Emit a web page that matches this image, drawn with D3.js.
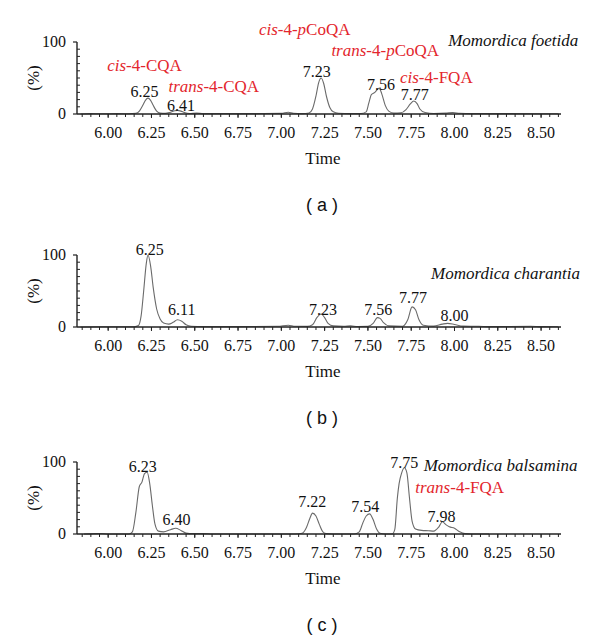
<!DOCTYPE html>
<html>
<head>
<meta charset="utf-8">
<script src="https://cdn.jsdelivr.net/npm/d3@7"></script>
<style>
  body { margin: 0; background: #fff; }
  svg { display: block; }
</style>
</head>
<body>
<div id="chart"></div>
<script>
// Chromatograms of three Momordica species (time vs relative intensity)

const timeTicks = [6.00, 6.25, 6.50, 6.75, 7.00, 7.25, 7.50, 7.75, 8.00, 8.25, 8.50];
const panelLetters = ['a', 'b', 'c'];
const speciesNames = ['Momordica foetida', 'Momordica charantia', 'Momordica balsamina'];

// [time, %] points of each trace
const traceA = [
    [5.84, 0], [5.90, 0.5], [5.96, 0.3], [6.05, 0.5], [6.12, 0.4], [6.16, 1],
    [6.18, 4], [6.20, 12], [6.215, 19], [6.23, 22], [6.245, 19], [6.26, 12],
    [6.28, 4], [6.30, 1.2], [6.33, 0.8], [6.36, 2.5], [6.385, 4.5], [6.40, 5],
    [6.42, 4], [6.44, 2], [6.47, 0.6], [6.51, 1.2], [6.55, 0.5], [6.70, 0.5],
    [6.90, 0.6], [7.00, 0.8], [7.04, 2.5], [7.07, 1], [7.12, 0.5], [7.16, 1.5],
    [7.18, 7], [7.20, 25], [7.215, 43], [7.23, 50], [7.245, 42], [7.26, 25],
    [7.28, 9], [7.30, 3], [7.33, 1], [7.40, 0.5], [7.46, 0.6], [7.49, 3],
    [7.505, 15], [7.52, 27], [7.54, 30], [7.565, 36], [7.58, 28], [7.60, 12],
    [7.62, 4], [7.65, 1.2], [7.69, 1.5], [7.72, 6], [7.745, 14], [7.765, 18],
    [7.785, 14], [7.80, 7], [7.83, 2], [7.88, 0.6], [7.95, 1.2], [7.99, 2],
    [8.03, 1], [8.10, 0.5], [8.30, 0.5], [8.50, 0.4], [8.60, 0.3]
];
const traceB = [
    [5.84, 0], [6.00, 0.3], [6.15, 0.3], [6.175, 2], [6.19, 15], [6.205, 50],
    [6.22, 88], [6.23, 100], [6.245, 85], [6.26, 55], [6.28, 25], [6.30, 11],
    [6.32, 5.5], [6.35, 4], [6.375, 6.5], [6.40, 10], [6.425, 8], [6.45, 3],
    [6.48, 1], [6.55, 0.5], [6.75, 0.5], [6.98, 1], [7.04, 2.5], [7.08, 1],
    [7.15, 0.8], [7.18, 3], [7.205, 13], [7.23, 18], [7.25, 13], [7.27, 5],
    [7.30, 1.5], [7.36, 1], [7.40, 1.5], [7.44, 0.6], [7.50, 0.8], [7.53, 5],
    [7.555, 13], [7.57, 12], [7.59, 6], [7.62, 1.5], [7.70, 1], [7.73, 10],
    [7.755, 28], [7.775, 24], [7.795, 10], [7.82, 2.5], [7.88, 1.2], [7.93, 4],
    [7.96, 5], [8.00, 3.5], [8.05, 1.2], [8.14, 1], [8.20, 0.5], [8.44, 1],
    [8.50, 0.5], [8.60, 0.4]
];
const traceC = [
    [5.86, 0], [5.92, 0.5], [5.96, 0.6], [6.00, 0], [6.12, 0], [6.14, 3],
    [6.16, 30], [6.18, 66], [6.195, 72], [6.21, 84], [6.225, 86], [6.24, 70],
    [6.255, 40], [6.27, 14], [6.29, 4], [6.32, 3], [6.36, 6], [6.39, 8],
    [6.42, 5], [6.45, 1.2], [6.49, 0.5], [6.55, 0.5], [6.60, 0], [7.08, 0],
    [7.12, 1], [7.145, 9], [7.165, 22], [7.18, 29], [7.20, 25], [7.22, 13],
    [7.24, 3], [7.26, 0.5], [7.30, 0], [7.42, 0], [7.45, 3], [7.47, 15],
    [7.49, 25], [7.51, 28], [7.53, 20], [7.55, 7], [7.57, 1], [7.60, 0],
    [7.64, 0], [7.655, 6], [7.67, 50], [7.68, 70], [7.695, 85], [7.71, 92],
    [7.725, 85], [7.74, 50], [7.755, 18], [7.775, 7], [7.81, 5], [7.85, 4.5],
    [7.88, 4], [7.91, 10], [7.93, 17], [7.95, 13], [7.97, 10], [8.00, 8],
    [8.03, 3], [8.06, 0.5], [8.10, 0], [8.20, 0]
];
const traces = [traceA, traceB, traceC];

// peak retention time labels: text, time, % where the baseline sits
const peaksA = [
    { text: '6.25', t: 6.21, v: 23 }, { text: '6.41', t: 6.42, v: 4 },
    { text: '7.23', t: 7.205, v: 51 }, { text: '7.56', t: 7.575, v: 33 },
    { text: '7.77', t: 7.77, v: 19 }
];
const peaksB = [
    { text: '6.25', t: 6.24, v: 100 }, { text: '6.11', t: 6.425, v: 16 },
    { text: '7.23', t: 7.24, v: 16 }, { text: '7.56', t: 7.56, v: 16 },
    { text: '7.77', t: 7.76, v: 33 }, { text: '8.00', t: 8.00, v: 9 }
];
const peaksC = [
    { text: '6.23', t: 6.20, v: 86 }, { text: '6.40', t: 6.395, v: 12 },
    { text: '7.22', t: 7.178, v: 37 }, { text: '7.54', t: 7.485, v: 31 },
    { text: '7.75', t: 7.71, v: 92 }, { text: '7.98', t: 7.925, v: 17 }
];
const peakLabels = [peaksA, peaksB, peaksC];

// compound names in red: italic prefix, plain part, italic 'p', rest
const compoundsA = [
    { pre: 'cis', mid: '-4-', p: '', rest: 'CQA', t: 6.21, v: 60 },
    { pre: 'trans', mid: '-4-', p: '', rest: 'CQA', t: 6.61, v: 31 },
    { pre: 'cis', mid: '-4-', p: 'p', rest: 'CoQA', t: 7.135, v: 110 },
    { pre: 'trans', mid: '-4-', p: 'p', rest: 'CoQA', t: 7.60, v: 80 },
    { pre: 'cis', mid: '-4-', p: '', rest: 'FQA', t: 7.895, v: 43 }
];
const compoundsB = [];
const compoundsC = [
    { pre: 'trans', mid: '-4-', p: '', rest: 'FQA', t: 8.03, v: 57 }
];
const compounds = [compoundsA, compoundsB, compoundsC];

// species name position (right end of text)
const speciesPos = [{ t: 8.715, v: 94 }, { t: 8.725, v: 67 }, { t: 8.71, v: 88 }];

const W = 600, H = 640;
const axisLeft = 77, axisRight = 561;
const panelBase = [114, 327, 534];   // y of 0 %
const plotH = 72;
const red = '#e3262d';
const serif = '"Liberation Serif", "DejaVu Serif", serif';

const svg = d3.select('#chart').append('svg')
    .attr('width', W)
    .attr('height', H);

const x = d3.scaleLinear()
    .domain([5.82, 8.615])
    .range([axisLeft, axisRight]);

const minorX = d3.range(5.85, 8.62, 0.05).map(d => +d.toFixed(2));

panelLetters.forEach((letter, i) => {
    const y0 = panelBase[i];
    const y = d3.scaleLinear().domain([0, 100]).range([y0, y0 - plotH]);
    const g = svg.append('g');

    // trace
    const line = d3.line()
        .x(d => x(d[0]))
        .y(d => y(d[1]))
        .curve(d3.curveMonotoneX);

    g.append('path')
        .datum(traces[i])
        .attr('fill', 'none')
        .attr('stroke', '#6a6a6a')
        .attr('stroke-width', 1.1)
        .attr('d', line);

    // x axis: minor ticks then labelled ticks
    const xg = g.append('g').attr('transform', `translate(0,${y0})`);
    xg.append('line')
        .attr('x1', axisLeft).attr('x2', axisRight)
        .attr('stroke', '#222').attr('stroke-width', 1.4);
    xg.selectAll('.minor')
        .data(minorX)
        .join('line')
        .attr('x1', d => x(d)).attr('x2', d => x(d))
        .attr('y1', 0).attr('y2', 3)
        .attr('stroke', '#222').attr('stroke-width', 1);
    xg.selectAll('.major')
        .data(timeTicks)
        .join('line')
        .attr('x1', d => x(d)).attr('x2', d => x(d))
        .attr('y1', 0).attr('y2', 4)
        .attr('stroke', '#222').attr('stroke-width', 1);
    xg.selectAll('.tl')
        .data(timeTicks)
        .join('text')
        .attr('x', d => x(d))
        .attr('y', 24)
        .attr('text-anchor', 'middle')
        .attr('font-family', serif)
        .attr('font-size', 16)
        .attr('fill', '#111')
        .text(d => d.toFixed(2));

    // y axis
    const yg = g.append('g');
    yg.append('line')
        .attr('x1', axisLeft).attr('x2', axisLeft)
        .attr('y1', y(0)).attr('y2', y(100))
        .attr('stroke', '#222').attr('stroke-width', 1.4);
    yg.selectAll('.ym')
        .data(d3.range(10, 100, 10))
        .join('line')
        .attr('x1', axisLeft).attr('x2', axisLeft + 3)
        .attr('y1', d => y(d)).attr('y2', d => y(d))
        .attr('stroke', '#222').attr('stroke-width', 1);
    yg.selectAll('.yM')
        .data([0, 100])
        .join('line')
        .attr('x1', axisLeft - 4).attr('x2', axisLeft)
        .attr('y1', d => y(d)).attr('y2', d => y(d))
        .attr('stroke', '#222').attr('stroke-width', 1.2);
    yg.selectAll('.yl')
        .data([0, 100])
        .join('text')
        .attr('x', axisLeft - 11)
        .attr('y', d => y(d) + 5)
        .attr('text-anchor', 'end')
        .attr('font-family', serif)
        .attr('font-size', 16)
        .attr('fill', '#111')
        .text(d => d);

    g.append('text')
        .attr('transform', `translate(33,${y(50)}) rotate(-90)`)
        .attr('text-anchor', 'middle')
        .attr('dy', '0.35em')
        .attr('font-family', serif)
        .attr('font-size', 17)
        .attr('fill', '#111')
        .text('(%)');

    // axis title and panel letter
    g.append('text')
        .attr('x', (axisLeft + axisRight) / 2 + 4)
        .attr('y', y0 + 50)
        .attr('text-anchor', 'middle')
        .attr('font-family', serif)
        .attr('font-size', 17)
        .attr('fill', '#111')
        .text('Time');

    g.append('text')
        .attr('x', (axisLeft + axisRight) / 2 + 3)
        .attr('y', y0 + 97)
        .attr('text-anchor', 'middle')
        .attr('font-family', '"Liberation Sans", Arial, sans-serif')
        .attr('font-size', 18)
        .attr('fill', '#111')
        .attr('xml:space', 'preserve')
        .style('white-space', 'pre')
        .text('( ' + letter + ' )');

    // peak labels
    g.selectAll('.pk')
        .data(peakLabels[i])
        .join('text')
        .attr('x', d => x(d.t))
        .attr('y', d => y(d.v))
        .attr('text-anchor', 'middle')
        .attr('font-family', serif)
        .attr('font-size', 16)
        .attr('fill', '#111')
        .text(d => d.text);

    // species
    g.append('text')
        .attr('x', x(speciesPos[i].t))
        .attr('y', y(speciesPos[i].v))
        .attr('text-anchor', 'end')
        .attr('font-family', serif)
        .attr('font-style', 'italic')
        .attr('font-size', 17)
        .attr('fill', '#111')
        .text(speciesNames[i]);

    // compound names
    const ct = g.selectAll('.cmp')
        .data(compounds[i])
        .join('text')
        .attr('x', d => x(d.t))
        .attr('y', d => y(d.v))
        .attr('text-anchor', 'middle')
        .attr('font-family', serif)
        .attr('font-size', 17)
        .attr('fill', red);
    ct.append('tspan').attr('font-style', 'italic').text(d => d.pre);
    ct.append('tspan').text(d => d.mid);
    ct.append('tspan').attr('font-style', 'italic').text(d => d.p);
    ct.append('tspan').text(d => d.rest);
});
</script>
</body>
</html>
